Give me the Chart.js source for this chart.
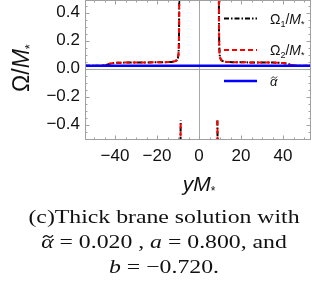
<!DOCTYPE html>
<html><head><meta charset="utf-8">
<script src="https://cdn.jsdelivr.net/npm/chart.js@4"></script>
<style>
html,body{margin:0;padding:0;background:#fff;width:312px;height:289px;overflow:hidden}
canvas{display:block}
</style></head><body>
<canvas id="c" width="312" height="289"></canvas>
<script>
// ---- data ----
const xRange = [-54.3, 53.3];
const yRange = [-0.51, 0.49];
const xTicks = [-40, -20, 0, 20, 40];
const xTickLabels = ["\u221240", "\u221220", "0", "20", "40"];
const xMinorTicks = [-50,-45,-35,-30,-25,-15,-10,-5,5,10,15,25,30,35,45,50];
const yTicks = [-0.4, -0.2, 0, 0.2, 0.4];
const yTickLabels = ["\u22120.4", "\u22120.2", "0.0", "0.2", "0.4"];
const yMinorTicks = [-0.5,-0.45,-0.35,-0.3,-0.25,-0.15,-0.1,-0.05,0.05,0.1,0.15,0.25,0.3,0.35,0.45];

const omegaY = [-54.3,-50,-47,-45,-43.5,-42,-40,-35,-30,-25,-20,-16,-13,-11.5,-10.6,-10.1,-9.8,-9.62,-9.5,-9.42,
  -9.1,-8.86,-8.78,-8.72,0,8.72,8.78,8.86,9.1,
  9.42,9.5,9.62,9.8,10.1,10.6,11.5,13,16,20,25,30,35,40,42,43.5,45,47,50,53.3];
const omega1Val = [0.02,0.02,0.021,0.024,0.03,0.037,0.041,0.043,0.044,0.044,0.045,0.046,0.048,0.052,0.06,0.075,0.1,0.16,0.28,0.6,
  null,-0.6,-0.45,-0.37,null,-0.37,-0.45,-0.6,null,
  0.6,0.28,0.16,0.1,0.075,0.06,0.052,0.048,0.046,0.045,0.044,0.044,0.043,0.04,0.035,0.028,0.023,0.021,0.02,0.02];
const omega2Val = [0.02,0.02,0.021,0.024,0.03,0.037,0.041,0.043,0.044,0.044,0.045,0.046,0.048,0.052,0.06,0.075,0.1,0.16,0.28,0.6,
  null,-0.6,-0.45,-0.37,null,-0.37,-0.45,-0.6,null,
  0.6,0.28,0.16,0.1,0.075,0.06,0.052,0.048,0.046,0.045,0.044,0.044,0.043,0.04,0.035,0.028,0.023,0.021,0.02,0.02];
const alphaY = [-54.3, 53.3];
const alphaVal = [0.02, 0.02];

// ---- helpers ----
const SANS = '"Liberation Sans", Arial, sans-serif';
const SERIF = '"Liberation Serif", "DejaVu Serif", serif';
function pts(xs, ys){ return xs.map((v,i)=>({x:v, y:ys[i]})); }
function richWidth(ctx, parts){ let w=0; parts.forEach(p=>{ctx.font=p[1]; w+=ctx.measureText(p[0]).width;}); return w; }
function drawTilde(ctx, cx, ty, w, h, lw){
  ctx.save();
  ctx.strokeStyle = ctx.fillStyle; ctx.lineWidth = lw; ctx.lineCap = 'round';
  ctx.beginPath();
  ctx.moveTo(cx - w/2, ty + h/2);
  ctx.bezierCurveTo(cx - w/4, ty - h, cx - w/8, ty - h/2, cx, ty);
  ctx.bezierCurveTo(cx + w/8, ty + h/2, cx + w/4, ty + h, cx + w/2, ty - h/2);
  ctx.stroke();
  ctx.restore();
}
function drawRich(ctx, parts, x, y, align){
  ctx.textAlign = 'left';
  const w = richWidth(ctx, parts);
  let cx = align==='center' ? x-w/2 : (align==='right' ? x-w : x);
  parts.forEach(p=>{
    ctx.font=p[1];
    const gw = ctx.measureText(p[0]).width;
    ctx.fillText(p[0], cx, y+(p[2]||0));
    if (p[3]) drawTilde(ctx, cx + gw/2 + (p[3].dx||0), y + (p[2]||0) - p[3].up, p[3].w, p[3].h, p[3].lw);
    cx += gw;
  });
  return w;
}

const deco = {
  id: 'deco',
  beforeDatasetsDraw(chart){
    const {ctx, chartArea:a, scales:{x, y}} = chart;
    ctx.save();
    ctx.strokeStyle = '#a8a8a8'; ctx.lineWidth = 1;
    const px = Math.round(x.getPixelForValue(0)) + 0.5;
    const py = Math.round(y.getPixelForValue(0)) + 0.5;
    ctx.beginPath();
    ctx.moveTo(px, a.top); ctx.lineTo(px, a.bottom);
    ctx.moveTo(a.left, py); ctx.lineTo(a.right, py);
    ctx.stroke();
    ctx.restore();
  },
  afterDraw(chart){
    const {ctx, chartArea:a, scales:{x, y}} = chart;
    ctx.save();
    // frame
    ctx.strokeStyle = '#a0a0a0'; ctx.lineWidth = 1;
    ctx.strokeRect(a.left + 0.5, a.top + 0.5, a.right - a.left - 1, a.bottom - a.top - 1);
    // ticks (inward, all four sides)
    ctx.beginPath();
    const tickX = (v, len) => { const p = Math.round(x.getPixelForValue(v)) + 0.5;
      ctx.moveTo(p, a.bottom); ctx.lineTo(p, a.bottom - len);
      ctx.moveTo(p, a.top); ctx.lineTo(p, a.top + len); };
    const tickY = (v, len) => { const p = Math.round(y.getPixelForValue(v)) + 0.5;
      ctx.moveTo(a.left, p); ctx.lineTo(a.left + len, p);
      ctx.moveTo(a.right, p); ctx.lineTo(a.right - len, p); };
    xTicks.forEach(v => tickX(v, 4.5)); xMinorTicks.forEach(v => tickX(v, 2.5));
    yTicks.forEach(v => tickY(v, 4.5)); yMinorTicks.forEach(v => tickY(v, 2.5));
    ctx.stroke();

    // legend
    const lx0 = 224, lx1 = 257, tx = 270;
    const lab = n => [["\u03A9", '14px '+SANS], [n, '9px '+SANS, 3], ["/", '14px '+SANS], ["M", 'italic 14px '+SANS], ["*", '9px '+SANS, 3]];
    ctx.fillStyle = '#111';
    const rows = [
      {yy: 18.5, color: '#000', dash: [5,2,1.5,2], w: 2, label: lab("1")},
      {yy: 50, color: '#ff0000', dash: [5,3], w: 2, label: lab("2")},
      {yy: 81, color: '#0000ff', dash: [], w: 2.5, label: [["\u03B1", 'italic 13px '+SANS, 0, {dx: 0.5, up: 8.5, w: 5.5, h: 1.4, lw: 0.9}]]}
    ];
    rows.forEach(r => {
      ctx.save();
      ctx.strokeStyle = r.color; ctx.lineWidth = r.w; ctx.setLineDash(r.dash);
      ctx.beginPath(); ctx.moveTo(lx0, r.yy); ctx.lineTo(lx1, r.yy); ctx.stroke();
      ctx.restore();
      ctx.fillStyle = '#111'; ctx.textBaseline = 'alphabetic';
      drawRich(ctx, r.label, tx, r.yy + 5, 'left');
    });

    // axis titles
    ctx.fillStyle = '#111';
    drawRich(ctx, [["yM", 'italic 21px '+SANS], ["*", '12px '+SANS, 4]], 199, 191, 'center');
    ctx.save();
    ctx.translate(29, 68); ctx.rotate(-Math.PI/2);
    drawRich(ctx, [["\u03A9/", '23px '+SANS], ["M", 'italic 23px '+SANS], ["*", '13px '+SANS, 5]], 0, 0, 'center');
    ctx.restore();

    // caption
    ctx.fillStyle = '#111';
    const cap = [
      {yy: 223, target: 282, parts: [["(c)Thick brane solution with", '19px '+SERIF]]},
      {yy: 248, target: 263, parts: [["\u03B1", 'italic 19px '+SERIF, 0, {dx: 0.5, up: 11.5, w: 7.5, h: 1.8, lw: 1.1}], [" = 0.020 , ", '19px '+SERIF], ["a", 'italic 19px '+SERIF], [" = 0.800, and", '19px '+SERIF]]},
      {yy: 273, target: 115, parts: [["b", 'italic 19px '+SERIF], [" = \u22120.720.", '19px '+SERIF]]}
    ];
    cap.forEach(c => {
      const w = richWidth(ctx, c.parts);
      const s = Math.min(1.25, Math.max(0.8, c.target / w));
      ctx.save(); ctx.translate(164, c.yy); ctx.scale(s, 1);
      drawRich(ctx, c.parts, 0, 0, 'center');
      ctx.restore();
    });
    ctx.restore();
  }
};

new Chart(document.getElementById('c').getContext('2d'), {
  type: 'line',
  data: {
    datasets: [
      {label: 'alpha', data: pts(alphaY, alphaVal), borderColor: '#0000ff', borderWidth: 2.5, pointRadius: 0, tension: 0},
      {label: 'Omega2', data: pts(omegaY, omega2Val), borderColor: '#ff0000', borderWidth: 2, borderDash: [5,3], pointRadius: 0, tension: 0},
      {label: 'Omega1', data: pts(omegaY, omega1Val), borderColor: '#000000', borderWidth: 2, borderDash: [5,2,1.5,2], pointRadius: 0, tension: 0}
    ]
  },
  options: {
    responsive: false, animation: false, devicePixelRatio: 1,
    layout: {padding: {left: 0, right: 1, top: 0, bottom: 0}},
    plugins: {legend: {display: false}, tooltip: {enabled: false}},
    scales: {
      x: {
        type: 'linear', min: xRange[0], max: xRange[1],
        grid: {display: false, drawTicks: false}, border: {display: false},
        afterBuildTicks: s => { s.ticks = xTicks.map(v => ({value: v})); },
        ticks: {callback: (v, i) => xTickLabels[i], font: {family: SANS, size: 17}, color: '#111', padding: 6, maxRotation: 0, autoSkip: false},
        afterFit: s => { s.height = 149; s.paddingLeft = 0; s.paddingRight = 0; }
      },
      y: {
        type: 'linear', min: yRange[0], max: yRange[1],
        grid: {display: false, drawTicks: false}, border: {display: false},
        afterBuildTicks: s => { s.ticks = yTicks.map(v => ({value: v})); },
        ticks: {callback: (v, i) => yTickLabels[i], font: {family: SANS, size: 17}, color: '#111', padding: 5, autoSkip: false},
        afterFit: s => { s.width = 85; s.paddingTop = 0; s.paddingBottom = 0; }
      }
    }
  },
  plugins: [deco]
});
</script>
</body></html>
